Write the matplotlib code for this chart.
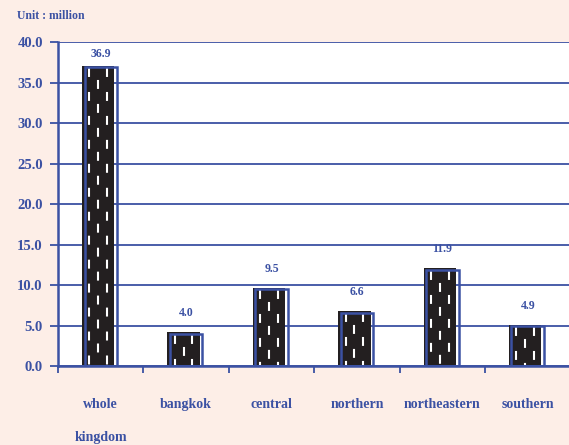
import matplotlib
matplotlib.use("Agg")
import matplotlib.pyplot as plt
from matplotlib.transforms import offset_copy

categories = ["whole\nkingdom", "bangkok", "central", "northern", "northeastern", "southern"]
values = [36.9, 4.0, 9.5, 6.6, 11.9, 4.9]
value_labels = ["36.9", "4.0", "9.5", "6.6", "11.9", "4.9"]
yticks = [0, 5, 10, 15, 20, 25, 30, 35, 40]
ytick_labels = ["0.0", "5.0", "10.0", "15.0", "20.0", "25.0", "30.0", "35.0", "40.0"]

BLUE = "#3B51A3"
BG = "#FDEEE7"
BLACK = "#231F20"
plt.rcParams['font.family'] = ['Liberation Serif', 'DejaVu Serif']

fig = plt.figure(figsize=(5.69, 4.45), dpi=100, facecolor=BG)
ax = fig.add_axes([0.102, 0.1775, 0.905, 0.728])
ax.set_facecolor("white")

x = list(range(len(categories)))
w = 0.38
ax.set_xlim(-0.5, len(categories) - 0.5 + 0.03)
ax.set_ylim(0, 40)

# grid
for t in yticks:
    ax.axhline(t, color=BLUE, lw=1.3, zorder=1)

shadow = offset_copy(ax.transData, fig=fig, x=-2.5, y=1.5, units='dots')
ax.bar(x, values, width=w, color=BLACK, edgecolor=BLACK, lw=0, transform=shadow, zorder=2)
for xi, v in zip(x, values):
    for k, frac in enumerate([-0.27, 0.0, 0.27]):
        off = 0 if k != 1 else 8
        ax.plot([xi + frac * w, xi + frac * w], [v - 0.3, 0], color="white", lw=1.5,
                linestyle=(off * 0.72, (4.3, 7.2)), transform=shadow, zorder=3, solid_capstyle='butt')
ax.bar(x, values, width=w, facecolor="none", edgecolor=BLUE, lw=1.8, zorder=4)

for xi, v, lab in zip(x, values, value_labels):
    ax.text(xi, min(v + 2.5, 38.5), lab, ha='center', va='center', color=BLUE,
            fontsize=8.5, fontweight='bold')

ax.set_yticks(yticks)
ax.set_yticklabels(ytick_labels, color=BLUE, fontsize=10.5, fontweight='bold')
ax.tick_params(axis='y', length=6, width=1.3, color=BLUE, pad=5)

ax.set_xticks([i - 0.5 for i in range(len(categories))], minor=False)
ax.set_xticklabels([])
ax.tick_params(axis='x', which='major', length=5, width=1.3, color=BLUE, direction='out')
for xi, c in zip(x, categories):
    ax.text(xi, -3.9, c, ha='center', va='top', color=BLUE, fontsize=10,
            fontweight='bold', linespacing=3.05)

for s in ['top', 'right']:
    ax.spines[s].set_visible(False)
for s in ['left', 'bottom']:
    ax.spines[s].set_color(BLUE)
    ax.spines[s].set_linewidth(1.8)

fig.text(17 / 569, 1 - 16 / 445, "Unit : million", ha='left', va='center', color=BLUE,
         fontsize=8.5, fontweight='bold')

fig.savefig("out.png", dpi=100, facecolor=BG)
